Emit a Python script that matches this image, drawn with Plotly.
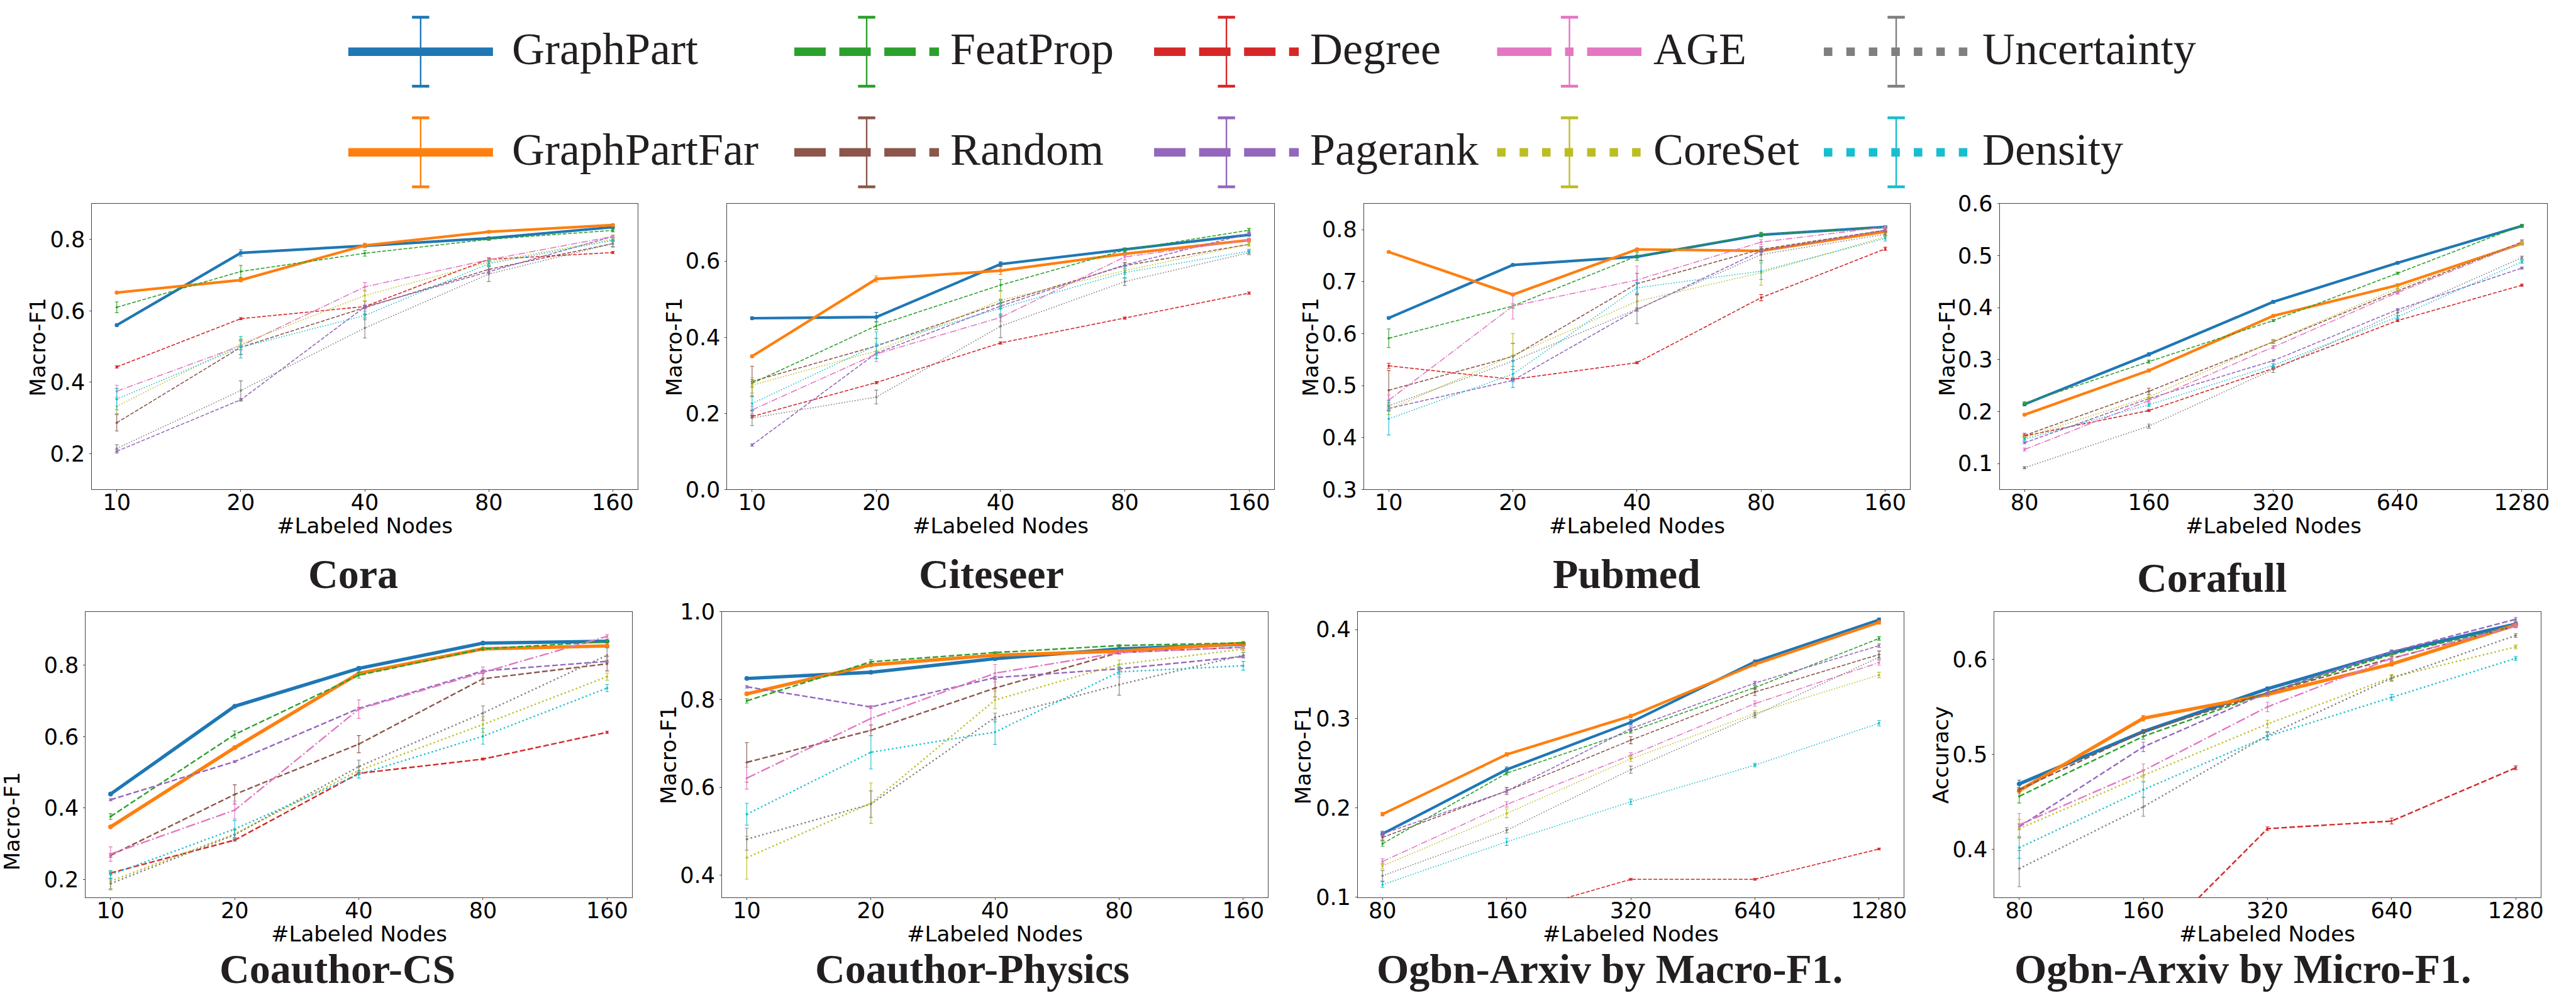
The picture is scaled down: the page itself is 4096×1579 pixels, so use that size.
import plotly.graph_objects as go

# ---------------- canvas / reference geometry ----------------
W, H = 4096, 1579
RW, RH = 5377.0, 2073.0          # reference size (layout positions measured there)


def fx(x):
    return x / RW


def fy(y):
    return 1 - y / RH


# ---------------- series meta ----------------
METHODS = ["GraphPart", "GraphPartFar", "FeatProp", "Random", "Degree",
           "Pagerank", "AGE", "CoreSet", "Uncertainty", "Density"]
COLORS = {"GraphPart": "#1f77b4", "GraphPartFar": "#ff7f0e", "FeatProp": "#2ca02c",
          "Random": "#8c564b", "Degree": "#d62728", "Pagerank": "#9467bd",
          "AGE": "#e377c2", "CoreSet": "#bcbd22", "Uncertainty": "#7f7f7f",
          "Density": "#17becf"}
STYLE = {"GraphPart": "solid", "GraphPartFar": "solid", "FeatProp": "dash",
         "Random": "dash", "Degree": "dash", "Pagerank": "dash", "AGE": "dashdot",
         "CoreSet": "dot", "Uncertainty": "dot", "Density": "dot"}

# ---------------- data ----------------
X_SMALL = ["10", "20", "40", "80", "160"]
X_LARGE = ["80", "160", "320", "640", "1280"]

CORA = {
    "GraphPart":    [0.560, 0.762, 0.782, 0.803, 0.834],
    "GraphPartFar": [0.651, 0.686, 0.783, 0.821, 0.840],
    "FeatProp":     [0.610, 0.710, 0.761, 0.800, 0.825],
    "Random":       [0.287, 0.498, 0.609, 0.716, 0.788],
    "Degree":       [0.443, 0.578, 0.612, 0.744, 0.763],
    "Pagerank":     [0.207, 0.351, 0.611, 0.710, 0.808],
    "AGE":          [0.375, 0.502, 0.667, 0.743, 0.808],
    "CoreSet":      [0.333, 0.507, 0.643, 0.736, 0.800],
    "Uncertainty":  [0.215, 0.377, 0.552, 0.703, 0.788],
    "Density":      [0.353, 0.498, 0.587, 0.732, 0.797],
}
CORA_ERR = {
    "GraphPart":    [0.003, 0.009, 0.005, 0.004, 0.003],
    "GraphPartFar": [0.003, 0.005, 0.006, 0.003, 0.003],
    "FeatProp":     [0.015, 0.017, 0.008, 0.003, 0.004],
    "Random":       [0.023, 0.020, 0.018, 0.010, 0.008],
    "Degree":       [0.003, 0.003, 0.003, 0.004, 0.003],
    "Pagerank":     [0.005, 0.004, 0.005, 0.005, 0.003],
    "AGE":          [0.017, 0.012, 0.012, 0.006, 0.004],
    "CoreSet":      [0.020, 0.015, 0.015, 0.006, 0.004],
    "Uncertainty":  [0.010, 0.027, 0.028, 0.021, 0.010],
    "Density":      [0.030, 0.030, 0.012, 0.008, 0.004],
}

CITESEER = {
    "GraphPart":    [0.450, 0.453, 0.592, 0.630, 0.669],
    "GraphPartFar": [0.350, 0.553, 0.575, 0.619, 0.655],
    "FeatProp":     [0.279, 0.430, 0.537, 0.629, 0.681],
    "Random":       [0.284, 0.377, 0.490, 0.588, 0.644],
    "Degree":       [0.192, 0.281, 0.385, 0.450, 0.516],
    "Pagerank":     [0.117, 0.358, 0.482, 0.590, 0.672],
    "AGE":          [0.209, 0.356, 0.452, 0.611, 0.655],
    "CoreSet":      [0.274, 0.364, 0.497, 0.575, 0.644],
    "Uncertainty":  [0.188, 0.243, 0.429, 0.546, 0.622],
    "Density":      [0.226, 0.379, 0.476, 0.570, 0.626],
}
CITESEER_ERR = {
    "GraphPart":    [0.003, 0.012, 0.006, 0.004, 0.003],
    "GraphPartFar": [0.003, 0.008, 0.010, 0.004, 0.004],
    "FeatProp":     [0.010, 0.010, 0.015, 0.006, 0.005],
    "Random":       [0.040, 0.020, 0.010, 0.008, 0.005],
    "Degree":       [0.003, 0.003, 0.003, 0.003, 0.003],
    "Pagerank":     [0.003, 0.005, 0.006, 0.005, 0.004],
    "AGE":          [0.010, 0.020, 0.010, 0.008, 0.005],
    "CoreSet":      [0.020, 0.020, 0.024, 0.010, 0.005],
    "Uncertainty":  [0.020, 0.018, 0.030, 0.010, 0.005],
    "Density":      [0.020, 0.035, 0.020, 0.015, 0.005],
}

PUBMED = {
    "GraphPart":    [0.630, 0.732, 0.748, 0.790, 0.805],
    "GraphPartFar": [0.757, 0.675, 0.762, 0.759, 0.796],
    "FeatProp":     [0.591, 0.653, 0.749, 0.791, 0.804],
    "Random":       [0.491, 0.556, 0.696, 0.762, 0.799],
    "Degree":       [0.538, 0.512, 0.544, 0.669, 0.763],
    "Pagerank":     [0.456, 0.510, 0.646, 0.759, 0.799],
    "AGE":          [0.472, 0.653, 0.703, 0.776, 0.805],
    "CoreSet":      [0.454, 0.558, 0.662, 0.717, 0.786],
    "Uncertainty":  [0.461, 0.547, 0.647, 0.752, 0.791],
    "Density":      [0.436, 0.522, 0.688, 0.720, 0.783],
}
PUBMED_ERR = {
    "GraphPart":    [0.002, 0.002, 0.003, 0.004, 0.002],
    "GraphPartFar": [0.002, 0.002, 0.002, 0.002, 0.002],
    "FeatProp":     [0.018, 0.004, 0.008, 0.004, 0.003],
    "Random":       [0.038, 0.025, 0.020, 0.005, 0.003],
    "Degree":       [0.005, 0.002, 0.002, 0.006, 0.003],
    "Pagerank":     [0.003, 0.003, 0.003, 0.003, 0.003],
    "AGE":          [0.010, 0.025, 0.027, 0.005, 0.003],
    "CoreSet":      [0.010, 0.042, 0.012, 0.024, 0.004],
    "Uncertainty":  [0.010, 0.010, 0.028, 0.012, 0.003],
    "Density":      [0.031, 0.026, 0.010, 0.016, 0.005],
}

CORAFULL = {
    "GraphPart":    [0.214, 0.310, 0.411, 0.486, 0.557],
    "GraphPartFar": [0.194, 0.279, 0.384, 0.443, 0.523],
    "FeatProp":     [0.216, 0.296, 0.375, 0.466, 0.558],
    "Random":       [0.154, 0.239, 0.334, 0.432, 0.526],
    "Degree":       [0.153, 0.202, 0.283, 0.375, 0.443],
    "Pagerank":     [0.140, 0.225, 0.298, 0.396, 0.476],
    "AGE":          [0.127, 0.221, 0.324, 0.429, 0.524],
    "CoreSet":      [0.150, 0.228, 0.335, 0.437, 0.524],
    "Uncertainty":  [0.092, 0.172, 0.281, 0.390, 0.496],
    "Density":      [0.147, 0.213, 0.289, 0.382, 0.488],
}
CORAFULL_ERR = {
    "GraphPart":    [0.003, 0.003, 0.003, 0.002, 0.002],
    "GraphPartFar": [0.002, 0.003, 0.002, 0.002, 0.002],
    "FeatProp":     [0.003, 0.003, 0.002, 0.002, 0.002],
    "Random":       [0.004, 0.006, 0.003, 0.004, 0.004],
    "Degree":       [0.002, 0.002, 0.002, 0.002, 0.002],
    "Pagerank":     [0.002, 0.002, 0.002, 0.002, 0.002],
    "AGE":          [0.003, 0.003, 0.003, 0.003, 0.003],
    "CoreSet":      [0.003, 0.004, 0.004, 0.004, 0.003],
    "Uncertainty":  [0.002, 0.004, 0.006, 0.005, 0.003],
    "Density":      [0.003, 0.003, 0.003, 0.003, 0.003],
}

COAUTHOR_CS = {
    "GraphPart":    [0.439, 0.685, 0.791, 0.862, 0.867],
    "GraphPartFar": [0.347, 0.569, 0.777, 0.846, 0.854],
    "FeatProp":     [0.376, 0.606, 0.772, 0.846, 0.866],
    "Random":       [0.267, 0.438, 0.579, 0.762, 0.804],
    "Degree":       [0.218, 0.310, 0.497, 0.537, 0.612],
    "Pagerank":     [0.423, 0.530, 0.679, 0.784, 0.811],
    "AGE":          [0.271, 0.394, 0.677, 0.780, 0.881],
    "CoreSet":      [0.195, 0.327, 0.505, 0.634, 0.768],
    "Uncertainty":  [0.188, 0.325, 0.516, 0.666, 0.828],
    "Density":      [0.213, 0.341, 0.494, 0.601, 0.736],
}
COAUTHOR_CS_ERR = {
    "GraphPart":    [0.003, 0.003, 0.005, 0.003, 0.003],
    "GraphPartFar": [0.003, 0.003, 0.003, 0.003, 0.003],
    "FeatProp":     [0.008, 0.010, 0.008, 0.003, 0.003],
    "Random":       [0.005, 0.027, 0.024, 0.015, 0.020],
    "Degree":       [0.003, 0.003, 0.003, 0.003, 0.003],
    "Pagerank":     [0.003, 0.003, 0.003, 0.003, 0.003],
    "AGE":          [0.020, 0.025, 0.026, 0.015, 0.005],
    "CoreSet":      [0.025, 0.010, 0.010, 0.022, 0.010],
    "Uncertainty":  [0.015, 0.015, 0.018, 0.020, 0.020],
    "Density":      [0.012, 0.024, 0.010, 0.022, 0.010],
}

COAUTHOR_PHYSICS = {
    "GraphPart":    [0.848, 0.862, 0.893, 0.915, 0.926],
    "GraphPartFar": [0.813, 0.879, 0.901, 0.910, 0.928],
    "FeatProp":     [0.797, 0.886, 0.907, 0.923, 0.929],
    "Random":       [0.657, 0.730, 0.826, 0.907, 0.919],
    "Degree":       [0.120, 0.150, 0.180, 0.220, 0.274],
    "Pagerank":     [0.829, 0.783, 0.850, 0.870, 0.898],
    "AGE":          [0.621, 0.757, 0.860, 0.907, 0.919],
    "CoreSet":      [0.440, 0.564, 0.799, 0.880, 0.915],
    "Uncertainty":  [0.482, 0.562, 0.759, 0.834, 0.901],
    "Density":      [0.539, 0.680, 0.726, 0.863, 0.877],
}
COAUTHOR_PHYSICS_ERR = {
    "GraphPart":    [0.002, 0.002, 0.002, 0.002, 0.002],
    "GraphPartFar": [0.003, 0.002, 0.002, 0.002, 0.002],
    "FeatProp":     [0.005, 0.005, 0.002, 0.002, 0.002],
    "Random":       [0.045, 0.012, 0.020, 0.003, 0.003],
    "Degree":       [0.003, 0.003, 0.003, 0.003, 0.003],
    "Pagerank":     [0.003, 0.003, 0.003, 0.003, 0.003],
    "AGE":          [0.025, 0.027, 0.020, 0.004, 0.003],
    "CoreSet":      [0.049, 0.046, 0.020, 0.010, 0.004],
    "Uncertainty":  [0.025, 0.030, 0.010, 0.024, 0.006],
    "Density":      [0.025, 0.038, 0.028, 0.012, 0.010],
}

ARXIV_MACRO = {
    "GraphPart":    [0.171, 0.243, 0.296, 0.364, 0.411],
    "GraphPartFar": [0.193, 0.260, 0.303, 0.361, 0.408],
    "FeatProp":     [0.160, 0.239, 0.286, 0.335, 0.390],
    "Random":       [0.167, 0.219, 0.276, 0.330, 0.372],
    "Degree":       [0.060, 0.080, 0.120, 0.120, 0.154],
    "Pagerank":     [0.171, 0.219, 0.289, 0.340, 0.382],
    "AGE":          [0.140, 0.204, 0.259, 0.317, 0.363],
    "CoreSet":      [0.135, 0.194, 0.255, 0.306, 0.349],
    "Uncertainty":  [0.124, 0.175, 0.243, 0.304, 0.369],
    "Density":      [0.114, 0.162, 0.207, 0.248, 0.295],
}
ARXIV_MACRO_ERR = {
    "GraphPart":    [0.003, 0.003, 0.003, 0.002, 0.002],
    "GraphPartFar": [0.002, 0.002, 0.002, 0.002, 0.002],
    "FeatProp":     [0.003, 0.002, 0.002, 0.002, 0.002],
    "Random":       [0.003, 0.004, 0.004, 0.004, 0.004],
    "Degree":       [0.001, 0.001, 0.001, 0.001, 0.001],
    "Pagerank":     [0.002, 0.002, 0.002, 0.002, 0.002],
    "AGE":          [0.003, 0.003, 0.003, 0.003, 0.003],
    "CoreSet":      [0.003, 0.005, 0.003, 0.003, 0.003],
    "Uncertainty":  [0.006, 0.003, 0.004, 0.003, 0.003],
    "Density":      [0.003, 0.004, 0.003, 0.002, 0.003],
}

ARXIV_MICRO = {
    "GraphPart":    [0.469, 0.524, 0.569, 0.607, 0.637],
    "GraphPartFar": [0.462, 0.538, 0.563, 0.595, 0.636],
    "FeatProp":     [0.456, 0.519, 0.565, 0.605, 0.635],
    "Random":       [0.463, 0.524, 0.565, 0.601, 0.635],
    "Degree":       [0.250, 0.291, 0.422, 0.430, 0.486],
    "Pagerank":     [0.424, 0.508, 0.565, 0.608, 0.642],
    "AGE":          [0.426, 0.483, 0.550, 0.601, 0.635],
    "CoreSet":      [0.422, 0.478, 0.532, 0.581, 0.613],
    "Uncertainty":  [0.380, 0.445, 0.520, 0.580, 0.625],
    "Density":      [0.402, 0.463, 0.519, 0.560, 0.601],
}
ARXIV_MICRO_ERR = {
    "GraphPart":    [0.004, 0.002, 0.002, 0.002, 0.002],
    "GraphPartFar": [0.003, 0.003, 0.002, 0.002, 0.002],
    "FeatProp":     [0.007, 0.003, 0.002, 0.002, 0.002],
    "Random":       [0.002, 0.002, 0.002, 0.002, 0.002],
    "Degree":       [0.002, 0.002, 0.002, 0.003, 0.002],
    "Pagerank":     [0.003, 0.005, 0.002, 0.002, 0.002],
    "AGE":          [0.012, 0.007, 0.005, 0.003, 0.002],
    "CoreSet":      [0.010, 0.006, 0.004, 0.003, 0.002],
    "Uncertainty":  [0.019, 0.010, 0.004, 0.003, 0.002],
    "Density":      [0.011, 0.008, 0.004, 0.003, 0.002],
}

TITLES = ["Cora", "Citeseer", "Pubmed", "Corafull", "Coauthor-CS",
          "Coauthor-Physics", "Ogbn-Arxiv by Macro-F1.", "Ogbn-Arxiv by Micro-F1."]
YLABELS = ["Macro-F1"] * 7 + ["Accuracy"]
YTICKS = [
    [0.2, 0.4, 0.6, 0.8],
    [0.0, 0.2, 0.4, 0.6],
    [0.3, 0.4, 0.5, 0.6, 0.7, 0.8],
    [0.1, 0.2, 0.3, 0.4, 0.5, 0.6],
    [0.2, 0.4, 0.6, 0.8],
    [0.4, 0.6, 0.8, 1.0],
    [0.1, 0.2, 0.3, 0.4],
    [0.4, 0.5, 0.6],
]
XLABEL = "#Labeled Nodes"

# ---------------- panel layout (reference px) ----------------
PANELS = [
    dict(data=CORA, err=CORA_ERR, x=X_SMALL, yr=[0.10, 0.90],
         frame=(192, 1331, 425, 1022), ylab=(80, 724), title=(737, 1198), xl=1097, thick=4.2, thin=1.6),
    dict(data=CITESEER, err=CITESEER_ERR, x=X_SMALL, yr=[0.0, 0.751],
         frame=(1518, 2659, 425, 1022), ylab=(1408, 724), title=(2069, 1198), xl=1097, thick=4.2, thin=1.6),
    dict(data=PUBMED, err=PUBMED_ERR, x=X_SMALL, yr=[0.30, 0.85],
         frame=(2847, 3987, 425, 1022), ylab=(2737, 724), title=(3395, 1198), xl=1097, thick=4.2, thin=1.6),
    dict(data=CORAFULL, err=CORAFULL_ERR, x=X_LARGE, yr=[0.05, 0.60],
         frame=(4174, 5316, 425, 1022), ylab=(4065, 724), title=(4617, 1206), xl=1097, thick=4.2, thin=1.6),
    dict(data=COAUTHOR_CS, err=COAUTHOR_CS_ERR, x=X_SMALL, yr=[0.15, 0.95],
         frame=(179, 1319, 1277, 1873), ylab=(25, 1715), title=(704, 2023), xl=1949, thick=5.4, thin=2.4),
    dict(data=COAUTHOR_PHYSICS, err=COAUTHOR_PHYSICS_ERR, x=X_SMALL, yr=[0.35, 1.0],
         frame=(1507, 2647, 1277, 1873), ylab=(1396, 1576), title=(2030, 2023), xl=1949, thick=5.4, thin=2.4),
    dict(data=ARXIV_MACRO, err=ARXIV_MACRO_ERR, x=X_LARGE, yr=[0.10, 0.42],
         frame=(2834, 3974, 1277, 1873), ylab=(2721, 1576), title=(3360, 2023), xl=1949, thick=4.2, thin=1.6),
    dict(data=ARXIV_MICRO, err=ARXIV_MICRO_ERR, x=X_LARGE, yr=[0.35, 0.65],
         frame=(4163, 5303, 1277, 1873), ylab=(4052, 1576), title=(4682, 2023), xl=1949, thick=5.4, thin=2.4),
]

TICK_FONT = dict(family="DejaVu Sans", size=35, color="black")
LABEL_FONT = dict(family="DejaVu Sans", size=34, color="black")
TITLE_FONT = dict(family="Liberation Serif", size=66, color="#231f20")
LEG_FONT = dict(family="Liberation Serif", size=72, color="#231f20")
FRAME_COLOR = "#444444"


def dash_for(style, w):
    if style == "solid":
        return "solid"
    if style == "dash":
        return f"{3.7 * w:.2f}px,{1.6 * w:.2f}px"
    if style == "dashdot":
        return f"{6.4 * w:.2f}px,{1.6 * w:.2f}px,{w:.2f}px,{1.6 * w:.2f}px"
    return f"{w:.2f}px,{1.65 * w:.2f}px"


fig = go.Figure()
layout = dict(width=W, height=H, margin=dict(l=0, r=0, t=0, b=0, pad=0, autoexpand=False),
              paper_bgcolor="white", plot_bgcolor="white", showlegend=False)
annotations = []
shapes = []

for i, p in enumerate(PANELS):
    k = i + 1
    xs = "" if k == 1 else str(k)
    x0, x1, y0, y1 = p["frame"]
    layout["xaxis" + xs] = dict(
        domain=[fx(x0), fx(x1)], anchor="y" + xs, type="category",
        categoryorder="array", categoryarray=p["x"], range=[-0.2, 4.2],
        showline=True, mirror=True, linecolor=FRAME_COLOR, linewidth=1,
        ticks="outside", ticklen=3, tickwidth=1, tickcolor=FRAME_COLOR,
        ticklabelstandoff=-13,
        tickfont=TICK_FONT, showgrid=False, zeroline=False, fixedrange=True,
        automargin=False)
    layout["yaxis" + xs] = dict(
        domain=[fy(y1), fy(y0)], anchor="x" + xs, range=p["yr"],
        tickmode="array", tickvals=YTICKS[i], ticktext=[f"{v:.1f}" for v in YTICKS[i]],
        showline=True, mirror=True, linecolor=FRAME_COLOR, linewidth=1,
        ticks="outside", ticklen=3, tickwidth=1, tickcolor=FRAME_COLOR,
        tickfont=TICK_FONT, showgrid=False, zeroline=False, fixedrange=True,
        automargin=False)

    for m in METHODS:
        main = m in ("GraphPart", "GraphPartFar")
        w = p["thick"] if main else p["thin"]
        fig.add_trace(go.Scatter(
            x=p["x"], y=p["data"][m], xaxis="x" + xs, yaxis="y" + xs,
            mode="lines+markers", name=m,
            line=dict(color=COLORS[m], width=w, dash=dash_for(STYLE[m], w)),
            marker=dict(color=COLORS[m], size=w + 2.2 if main else 3.8),
            error_y=dict(type="data", array=p["err"][m], visible=True,
                         color=COLORS[m], thickness=1.1, width=3),
        ))

    annotations.append(dict(x=fx((x0 + x1) / 2), y=fy(p["xl"]), xref="paper", yref="paper",
                            text=XLABEL, showarrow=False, font=LABEL_FONT,
                            xanchor="center", yanchor="middle"))
    annotations.append(dict(x=fx(p["ylab"][0]), y=fy(p["ylab"][1]), xref="paper", yref="paper",
                            text=YLABELS[i], showarrow=False, font=LABEL_FONT, textangle=-90,
                            xanchor="center", yanchor="middle"))
    annotations.append(dict(x=fx(p["title"][0]), y=fy(p["title"][1]), xref="paper", yref="paper",
                            text="<b>" + TITLES[i] + "</b>", showarrow=False, font=TITLE_FONT,
                            xanchor="center", yanchor="middle"))

# ---------------- legend (drawn by hand, 2 rows x 5 columns) ----------------
LEG_ORDER = [["GraphPart", "GraphPartFar"], ["FeatProp", "Random"], ["Degree", "Pagerank"],
             ["AGE", "CoreSet"], ["Uncertainty", "Density"]]
LEG_CX = [878, 1809, 2560, 3276, 3958]        # handle centres (ref px)
LEG_TX = [1066, 1981, 2732, 3448, 4135]       # text starts (ref px)
LEG_ROW_Y = [108, 318]
LEG_TEXT_Y = [102, 313]
HALF_LEN = 151
ERR_HALF = 72
CAP_HALF = 18
LW = 13.5

for c, pair in enumerate(LEG_ORDER):
    for r, m in enumerate(pair):
        cx, cy = LEG_CX[c], LEG_ROW_Y[r]
        col = COLORS[m]
        shapes.append(dict(type="line", xref="paper", yref="paper",
                           x0=fx(cx - HALF_LEN), x1=fx(cx + HALF_LEN), y0=fy(cy), y1=fy(cy),
                           line=dict(color=col, width=LW, dash=dash_for(STYLE[m], LW))))
        shapes.append(dict(type="line", xref="paper", yref="paper",
                           x0=fx(cx), x1=fx(cx), y0=fy(cy - ERR_HALF), y1=fy(cy + ERR_HALF),
                           line=dict(color=col, width=2.4)))
        for dy in (-ERR_HALF, ERR_HALF):
            shapes.append(dict(type="line", xref="paper", yref="paper",
                               x0=fx(cx - CAP_HALF), x1=fx(cx + CAP_HALF),
                               y0=fy(cy + dy), y1=fy(cy + dy),
                               line=dict(color=col, width=4.5)))
        annotations.append(dict(x=fx(LEG_TX[c]), y=fy(LEG_TEXT_Y[r]), xref="paper", yref="paper",
                                text=m, showarrow=False, font=LEG_FONT,
                                xanchor="left", yanchor="middle"))

layout["annotations"] = annotations
layout["shapes"] = shapes
fig.update_layout(**layout)
fig.write_html("out.html",
               config={"displayModeBar": False},
               post_script="document.body.style.margin='0px';document.body.style.overflow='hidden';")
